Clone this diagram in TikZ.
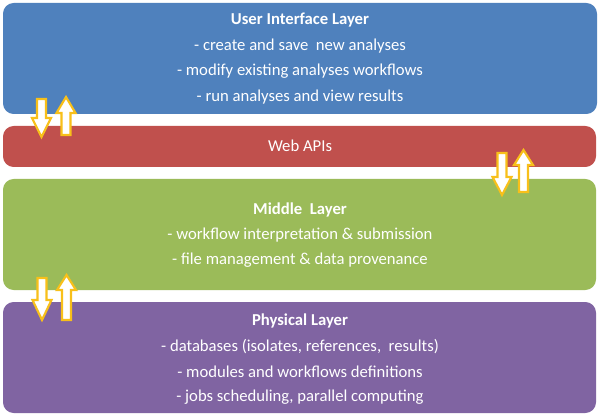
\documentclass[tikz,border=0pt]{standalone}
\usepackage{fontspec}
\setmainfont{Carlito}
\definecolor{ublue}{HTML}{4F81BD}
\definecolor{ured}{HTML}{C0504D}
\definecolor{ugreen}{HTML}{9BBB59}
\definecolor{upurple}{HTML}{8064A2}
\definecolor{ugold}{HTML}{F8C01A}
\newcommand{\arrDown}[4]{%
  \draw[arrowshape] ({#1-4.5},#2) -- ({#1+4.5},#2) -- ({#1+4.5},#3) -- ({#1+9.5},#3) -- (#1,#4) -- ({#1-9.5},#3) -- ({#1-4.5},#3) -- cycle;}
\newcommand{\arrUp}[4]{%
  \draw[arrowshape] ({#1-4.5},#2) -- ({#1+4.5},#2) -- ({#1+4.5},#3) -- ({#1+9.5},#3) -- (#1,#4) -- ({#1-9.5},#3) -- ({#1-4.5},#3) -- cycle;}
\tikzset{
  layerbox/.style={rounded corners=8pt, draw=none},
  title/.style={text=white, font=\fontsize{12.5pt}{14pt}\selectfont\bfseries, inner sep=0pt, anchor=center},
  item/.style={text=white, font=\fontsize{12.5pt}{14pt}\selectfont, inner sep=0pt, anchor=center},
  arrowshape/.style={fill=white, draw=ugold, line width=1.6pt, line join=miter},
}
\begin{document}
\begin{tikzpicture}[x=0.75pt,y=-0.75pt]
\useasboundingbox (0,0) rectangle (600,417);
\fill[white] (0,0) rectangle (600,417);
% layers
\fill[layerbox, ublue] (3,3) rectangle (597,114);
\fill[layerbox, ured] (3,126) rectangle (596,167);
\fill[layerbox, ugreen] (3,179) rectangle (596,290);
\fill[layerbox, upurple] (3,302) rectangle (596,413);
% texts
\node[title] (uit) at (300,20.5) {User Interface Layer};
\node[item] (ui1) at (300,46.5) {- create and save\ \ new analyses};
\node[item] (ui2) at (300,71.5) {- modify existing analyses workflows};
\node[item] (ui3) at (300,97.5) {- run analyses and view results};
\node[item] (web) at (300,145.5) {Web APIs};
\node[title] (mlt) at (300,209.5) {Middle\ \ Layer};
\node[item] (ml1) at (300,235.5) {- workflow interpretation \& submission};
\node[item] (ml2) at (300,260.5) {- file management \& data provenance};
\node[title] (plt) at (300,320.5) {Physical Layer};
\node[item] (pl1) at (300,346.5) {- databases (isolates, references,\ \ results)};
\node[item] (pl2) at (300,371.5) {- modules and workflows definitions};
\node[item] (pl3) at (300,397.5) {- jobs scheduling, parallel computing};
% arrows
\arrDown{41.5}{99}{118}{137}
\arrUp{66}{135}{113}{97}
\arrDown{502}{153}{177}{195}
\arrUp{523.5}{192}{165}{150}
\arrDown{42}{278}{300}{320}
\arrUp{66.5}{320}{290}{275}
\end{tikzpicture}
\end{document}
